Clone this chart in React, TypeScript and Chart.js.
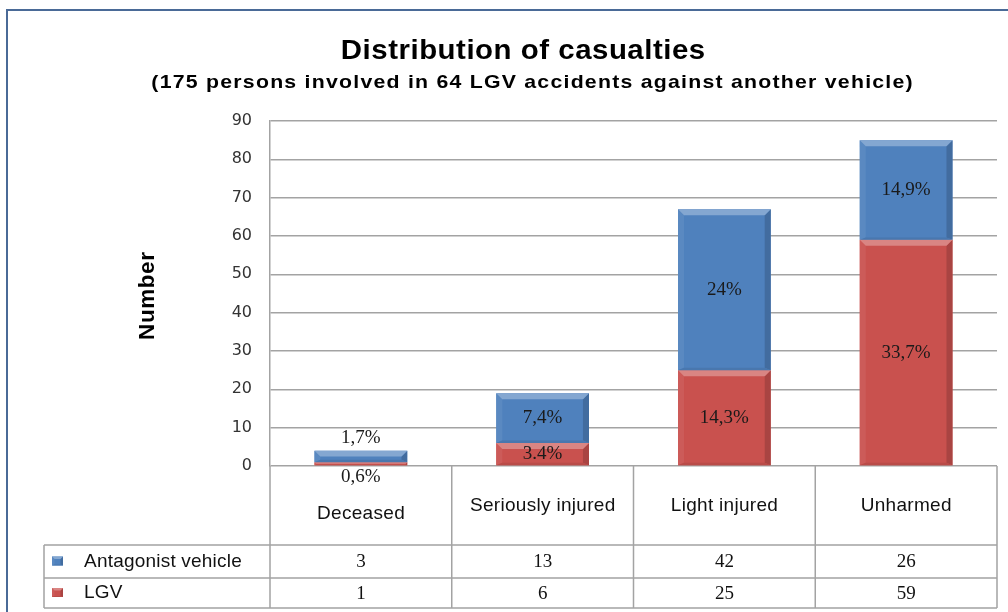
import { useEffect, useRef } from "react";
import { Chart, registerables } from "chart.js";

Chart.register(...registerables);

const categories = ["Deceased", "Seriously injured", "Light injured", "Unharmed"];
const seriesNames = ["Antagonist vehicle", "LGV"];
const antagonistValues = [3, 13, 42, 26];
const lgvValues = [1, 6, 25, 59];
const antagonistLabels = ["1,7%", "7,4%", "24%", "14,9%"];
const lgvLabels = ["0,6%", "3.4%", "14,3%", "33,7%"];
const yTicks = [0, 10, 20, 30, 40, 50, 60, 70, 80, 90];
const titleText = "Distribution of casualties";
const subtitleText = "(175 persons involved in 64 LGV accidents against another vehicle)";
const yAxisTitle = "Number";

const BLUE = "#4F81BD";
const RED = "#C9514E";
const GRID = "#A3A3A3";
const SANS = "'Liberation Sans', Arial, sans-serif";
const SERIF = "'Liberation Serif', 'Times New Roman', serif";

function shade(hex: string, f: number): string {
  const n = parseInt(hex.slice(1), 16);
  let r = (n >> 16) & 255, g = (n >> 8) & 255, b = n & 255;
  if (f >= 0) {
    r = Math.round(r + (255 - r) * f); g = Math.round(g + (255 - g) * f); b = Math.round(b + (255 - b) * f);
  } else {
    r = Math.round(r * (1 + f)); g = Math.round(g * (1 + f)); b = Math.round(b * (1 + f));
  }
  return `rgb(${r},${g},${b})`;
}

function bevelRect(ctx: CanvasRenderingContext2D, l: number, t: number, r: number, bot: number, color: string, bv: number, fillBody: boolean) {
  const h = bot - t;
  const w = r - l;
  const b = Math.max(0, Math.min(bv, h / 2, w / 2));
  if (fillBody) {
    ctx.fillStyle = color;
    ctx.fillRect(l, t, w, h);
  }
  const poly = (pts: number[][], fill: string) => {
    ctx.beginPath();
    ctx.moveTo(pts[0][0], pts[0][1]);
    for (let i = 1; i < pts.length; i++) ctx.lineTo(pts[i][0], pts[i][1]);
    ctx.closePath();
    ctx.fillStyle = fill;
    ctx.fill();
  };
  poly([[l, t], [l + b, t + b], [l + b, bot - b * 0.4], [l, bot]], shade(color, 0.06));
  poly([[r, t], [r, bot], [r - b, bot - b * 0.4], [r - b, t + b]], shade(color, -0.16));
  poly([[l, bot], [l + b, bot - b * 0.4], [r - b, bot - b * 0.4], [r, bot]], shade(color, -0.08));
  poly([[l, t], [r, t], [r - b, t + b], [l + b, t + b]], shade(color, 0.3));
}

function drawText(ctx: CanvasRenderingContext2D, text: string, x: number, y: number, spacing: number, sx: number) {
  ctx.save();
  ctx.translate(x, y);
  ctx.scale(sx, 1);
  (ctx as any).letterSpacing = spacing + "px";
  ctx.fillText(text, spacing / 2, 0);
  ctx.restore();
}

const decorPlugin = {
  id: "decor",
  beforeDraw(chart: any) {
    const ctx: CanvasRenderingContext2D = chart.ctx;
    ctx.save();
    ctx.fillStyle = "#ffffff";
    ctx.fillRect(0, 0, chart.width, chart.height);
    ctx.strokeStyle = "#4A6A97";
    ctx.lineWidth = 2;
    ctx.strokeRect(7, 10, chart.width + 50, chart.height + 50);

    ctx.fillStyle = "#000";
    ctx.textAlign = "center";
    ctx.textBaseline = "alphabetic";
    ctx.font = `bold 28px ${SANS}`;
    drawText(ctx, titleText, 523, 59, 0.5, 1.05);
    ctx.font = `bold 19px ${SANS}`;
    drawText(ctx, subtitleText, 532, 88, 1.1, 1.12);

    ctx.save();
    ctx.translate(148, 296);
    ctx.rotate(-Math.PI / 2);
    ctx.font = `bold 22px ${SANS}`;
    ctx.textBaseline = "middle";
    drawText(ctx, yAxisTitle, 0, 0, 0.6, 1.02);
    ctx.restore();
    ctx.restore();
  },
  afterDatasetsDraw(chart: any) {
    const ctx: CanvasRenderingContext2D = chart.ctx;
    const metas = chart.getSortedVisibleDatasetMetas();
    ctx.save();
    metas.forEach((meta: any) => {
      const color = chart.data.datasets[meta.index].backgroundColor;
      meta.data.forEach((el: any) => {
        const p = el.getProps(["x", "y", "base", "width"], true);
        const l = p.x - p.width / 2, r = p.x + p.width / 2;
        const t = Math.min(p.y, p.base), b = Math.max(p.y, p.base);
        bevelRect(ctx, l, t, r, b, color, 6, false);
      });
    });
    ctx.fillStyle = "#1a1a1a";
    ctx.font = `19px ${SERIF}`;
    ctx.textAlign = "center";
    ctx.textBaseline = "middle";
    metas.forEach((meta: any) => {
      const labels = meta.index === 0 ? lgvLabels : antagonistLabels;
      meta.data.forEach((el: any, i: number) => {
        const p = el.getProps(["x", "y", "base"], true);
        const t = Math.min(p.y, p.base), b = Math.max(p.y, p.base);
        const h = b - t;
        let y = (t + b) / 2;
        if (h < 16) y = meta.index === 0 ? b + 12 : t - 13;
        ctx.fillText(labels[i], p.x, y);
      });
    });
    ctx.restore();
  },
  afterDraw(chart: any) {
    const ctx: CanvasRenderingContext2D = chart.ctx;
    const area = chart.chartArea;
    const xs = chart.scales.x;
    const n = categories.length;
    const cw = (area.right - area.left) / n;
    const headBottom = area.bottom + 79;
    const row1 = headBottom + 33;
    const row2 = row1 + 30;
    const legLeft = 44;
    ctx.save();
    ctx.strokeStyle = GRID;
    ctx.lineWidth = 1.5;
    ctx.beginPath();
    for (let i = 0; i <= n; i++) {
      const x = area.left + i * cw;
      ctx.moveTo(x, area.bottom);
      ctx.lineTo(x, row2);
    }
    [headBottom, row1, row2].forEach((y) => {
      ctx.moveTo(legLeft, y);
      ctx.lineTo(area.right, y);
    });
    ctx.moveTo(legLeft, headBottom);
    ctx.lineTo(legLeft, row2);
    ctx.stroke();

    ctx.textAlign = "center";
    ctx.textBaseline = "middle";
    ctx.fillStyle = "#111";
    ctx.font = `19px ${SANS}`;
    categories.forEach((c, i) => {
      const x = xs.getPixelForValue(i);
      const y = (area.bottom + headBottom) / 2 + (i === 0 ? 8 : 0);
      drawText(ctx, c, x, y, 0.3, 1);
    });
    ctx.font = `19px ${SERIF}`;
    const rows = [antagonistValues, lgvValues];
    const rowY = [(headBottom + row1) / 2, (row1 + row2) / 2];
    rows.forEach((vals, r) => {
      vals.forEach((v, i) => {
        ctx.fillText(String(v), xs.getPixelForValue(i), rowY[r] + 1);
      });
    });
    const keyColors = [BLUE, RED];
    ctx.textAlign = "left";
    ctx.font = `19px ${SANS}`;
    seriesNames.forEach((name, r) => {
      const cy = rowY[r];
      bevelRect(ctx, 52, cy - 5, 63, cy + 4, keyColors[r], 2.5, true);
      ctx.fillStyle = "#111";
      drawText(ctx, name, 84, cy, 0.2, 1);
    });
    ctx.restore();
  },
};

export default function App() {
  const ref = useRef<HTMLCanvasElement | null>(null);
  useEffect(() => {
    document.body.style.margin = "0";
    const canvas = ref.current!;
    const chart = new Chart(canvas, {
      type: "bar",
      data: {
        labels: categories,
        datasets: [
          { label: seriesNames[1], data: lgvValues, backgroundColor: RED, stack: "s", categoryPercentage: 1, barPercentage: 0.51 },
          { label: seriesNames[0], data: antagonistValues, backgroundColor: BLUE, stack: "s", categoryPercentage: 1, barPercentage: 0.51 },
        ],
      },
      options: {
        animation: false,
        responsive: false,
        devicePixelRatio: 1,
        layout: { padding: { left: 0, right: 11, top: 121, bottom: 146 } },
        plugins: {
          legend: { display: false },
          tooltip: { enabled: false },
          title: { display: false },
        },
        scales: {
          x: { stacked: true, display: false },
          y: {
            stacked: true,
            min: yTicks[0],
            max: yTicks[yTicks.length - 1],
            afterFit: (s: any) => { s.width = 270; },
            afterBuildTicks: (s: any) => { s.ticks = yTicks.map((v) => ({ value: v })); },
            ticks: { padding: 18, color: "#333", font: { family: "'DejaVu Sans', Verdana, sans-serif", size: 16 } },
            grid: { color: GRID, lineWidth: 1.5, drawTicks: false },
            border: { display: true, color: GRID, width: 1.5 },
          },
        },
      },
      plugins: [decorPlugin],
    } as any);
    return () => chart.destroy();
  }, []);
  return <canvas ref={ref} width={1008} height={612} style={{ display: "block" }} />;
}
